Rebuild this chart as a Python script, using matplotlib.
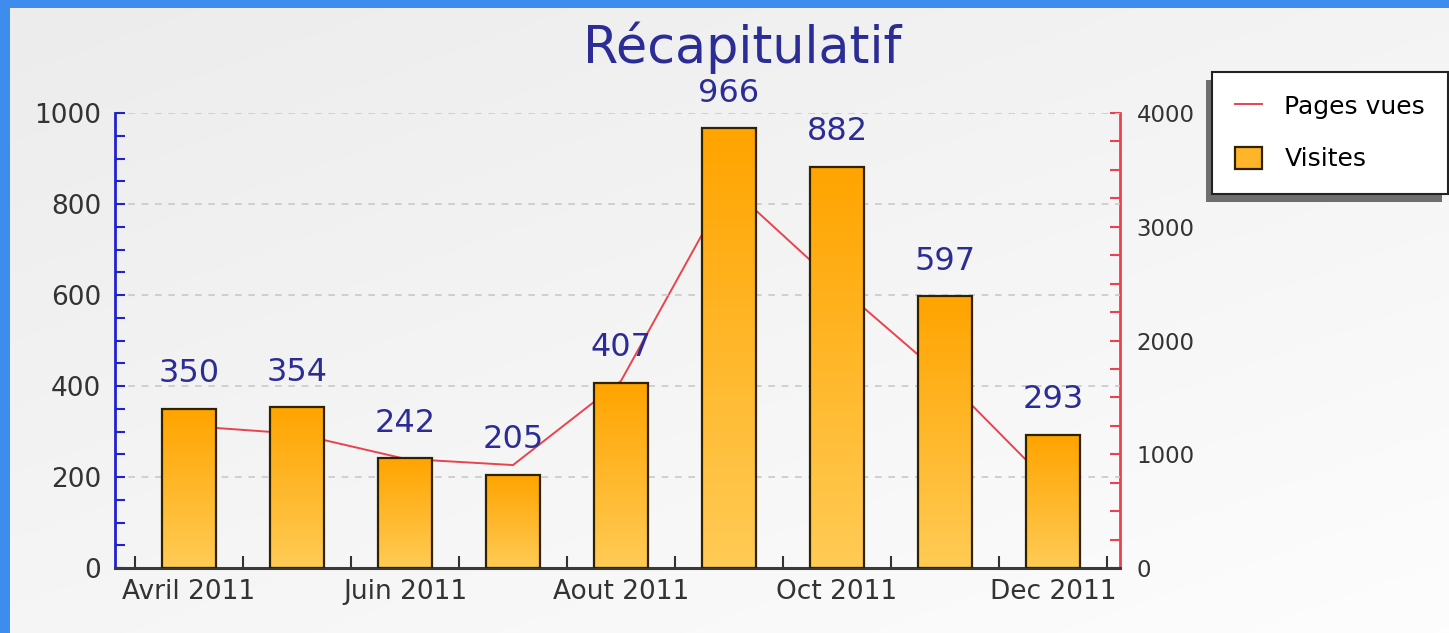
import matplotlib
matplotlib.use("Agg")
import matplotlib.pyplot as plt
import numpy as np
from matplotlib.colors import LinearSegmentedColormap
from matplotlib.patches import Rectangle

# Données
mois = ["Avril 2011", "Mai 2011", "Juin 2011", "Juillet 2011", "Aout 2011",
        "Sept 2011", "Oct 2011", "Nov 2011", "Dec 2011"]
visites = [350, 354, 242, 205, 407, 966, 882, 597, 293]
pages_vues = [1248, 1180, 960, 905, 1645, 3360, 2490, 1670, 710]
mois_affiches = ["Avril 2011", "Juin 2011", "Aout 2011", "Oct 2011", "Dec 2011"]

TXT = "#333333"
BLEU_TITRE = "#2c2c96"

fig = plt.figure(figsize=(14.49, 6.33), dpi=100)
fig.patch.set_facecolor("#3d8cee")

# fond dégradé gris clair -> blanc
bg = fig.add_axes([10 / 1449, 0, 1 - 10 / 1449, 1 - 8 / 633], zorder=-10)
gy, gx = np.mgrid[0:1:200j, 0:1:200j]
grad = 0.55 * gy + 0.45 * gx
bg_cmap = LinearSegmentedColormap.from_list("bg", ["#ececec", "#fdfdfd"])
bg.imshow(grad, cmap=bg_cmap, aspect="auto", extent=[0, 1, 0, 1], origin="upper")
bg.set_axis_off()

ax = fig.add_axes([115 / 1449, 1 - 568 / 633, (1120 - 115) / 1449, (568 - 113) / 633])
ax2 = ax.twinx()
ax.set_zorder(ax2.get_zorder() + 1)
ax.patch.set_visible(False)
ax2.patch.set_facecolor("white")

x = np.arange(len(mois))
largeur = 0.5

# courbe pages vues (axe de droite, derrière les barres)
ax2.plot(x, pages_vues, color="#e8434f", lw=1.4, label="Pages vues")
ax2.set_ylim(0, 4000)

# barres visites avec dégradé
bar_cmap = LinearSegmentedColormap.from_list("bar", ["#ffcb55", "#ffa400"])
barres = ax.bar(x, visites, width=largeur, facecolor="none", edgecolor="#2e2200",
                lw=1.6, zorder=3, label="Visites")
for b in barres:
    x0, y0 = b.get_x(), b.get_y()
    w, h = b.get_width(), b.get_height()
    im = ax.imshow(np.linspace(0, 1, 100).reshape(-1, 1), cmap=bar_cmap, aspect="auto",
                   extent=[x0, x0 + w, y0, y0 + h], origin="lower", zorder=2)
    im.set_clip_path(b)

for xi, v in zip(x, visites):
    ax.annotate(str(v), (xi, v), xytext=(0, 19), textcoords="offset points",
                ha="center", va="baseline", fontsize=23, color=BLEU_TITRE)

ax.set_xlim(-0.685, 8.62)
ax.set_ylim(0, 1000)

# axe gauche
ax.set_yticks(np.arange(0, 1001, 200))
ax.set_yticks(np.arange(0, 1001, 50), minor=True)
ax.tick_params(axis="y", which="both", direction="in", length=7, width=1.5,
               colors="#2222cc", labelcolor=TXT, labelsize=19, pad=10)
ax.grid(axis="y", which="major", color="#c9c9c9", ls=(0, (4, 4)), lw=1.2)

# axe du bas : graduations entre les mois, libellés au centre
ax.set_xticks(x[::2])
ax.set_xticklabels(mois_affiches)
ax.set_xticks(np.arange(-0.5, len(mois)), minor=True)
ax.tick_params(axis="x", which="major", length=0, labelsize=19, labelcolor=TXT, pad=8)
ax.tick_params(axis="x", which="minor", direction="in", length=9, width=1.5, color="#333333")

# axe droit
ax2.set_yticks(np.arange(0, 4001, 1000))
ax2.set_yticks(np.arange(0, 4001, 250), minor=True)
ax2.tick_params(axis="y", which="both", direction="in", length=7, width=1.5,
                colors="#e8434f", labelcolor=TXT, labelsize=16.5, pad=12)

for a in (ax, ax2):
    a.spines["top"].set_visible(False)
ax.spines["right"].set_visible(False)
ax.spines["left"].set_color("#2222cc")
ax.spines["left"].set_linewidth(2)
ax.spines["bottom"].set_color("#3a3a3a")
ax.spines["bottom"].set_linewidth(2.2)
ax2.spines["left"].set_visible(False)
ax2.spines["bottom"].set_visible(False)
ax2.spines["right"].set_color("#e8434f")
ax2.spines["right"].set_linewidth(2)

fig.text(742 / 1449, 1 - 63 / 633, "Récapitulatif", ha="center", va="baseline",
         fontsize=36.5, color=BLEU_TITRE)

# légende avec ombre décalée vers la gauche / le bas
handles = [ax2.get_lines()[0], Rectangle((0, 0), 1, 1, facecolor="#ffb52a",
                                          edgecolor="#2e2200", lw=1.6)]
leg = fig.legend(handles, ["Pages vues", "Visites"], loc="upper left",
                 bbox_to_anchor=(1212 / 1449, 1 - 72 / 633), borderaxespad=0,
                 fontsize=18, frameon=True, fancybox=False, edgecolor="#222222",
                 framealpha=1, handlelength=1.1, handleheight=1.0, handletextpad=0.9,
                 borderpad=0.9, labelspacing=1.1)
leg.get_frame().set_linewidth(1.5)
leg.set_zorder(5)

fig.canvas.draw()
bb = leg.get_window_extent()
inv = fig.transFigure.inverted()
(fx0, fy0), (fx1, fy1) = inv.transform([(bb.x0 - 6, bb.y0 - 8), (bb.x1 - 6, bb.y1 - 8)])
fig.patches.append(Rectangle((fx0, fy0), fx1 - fx0, fy1 - fy0, transform=fig.transFigure,
                             facecolor="#6e6e6e", edgecolor="none", zorder=4))

fig.savefig("out.png", dpi=100)
